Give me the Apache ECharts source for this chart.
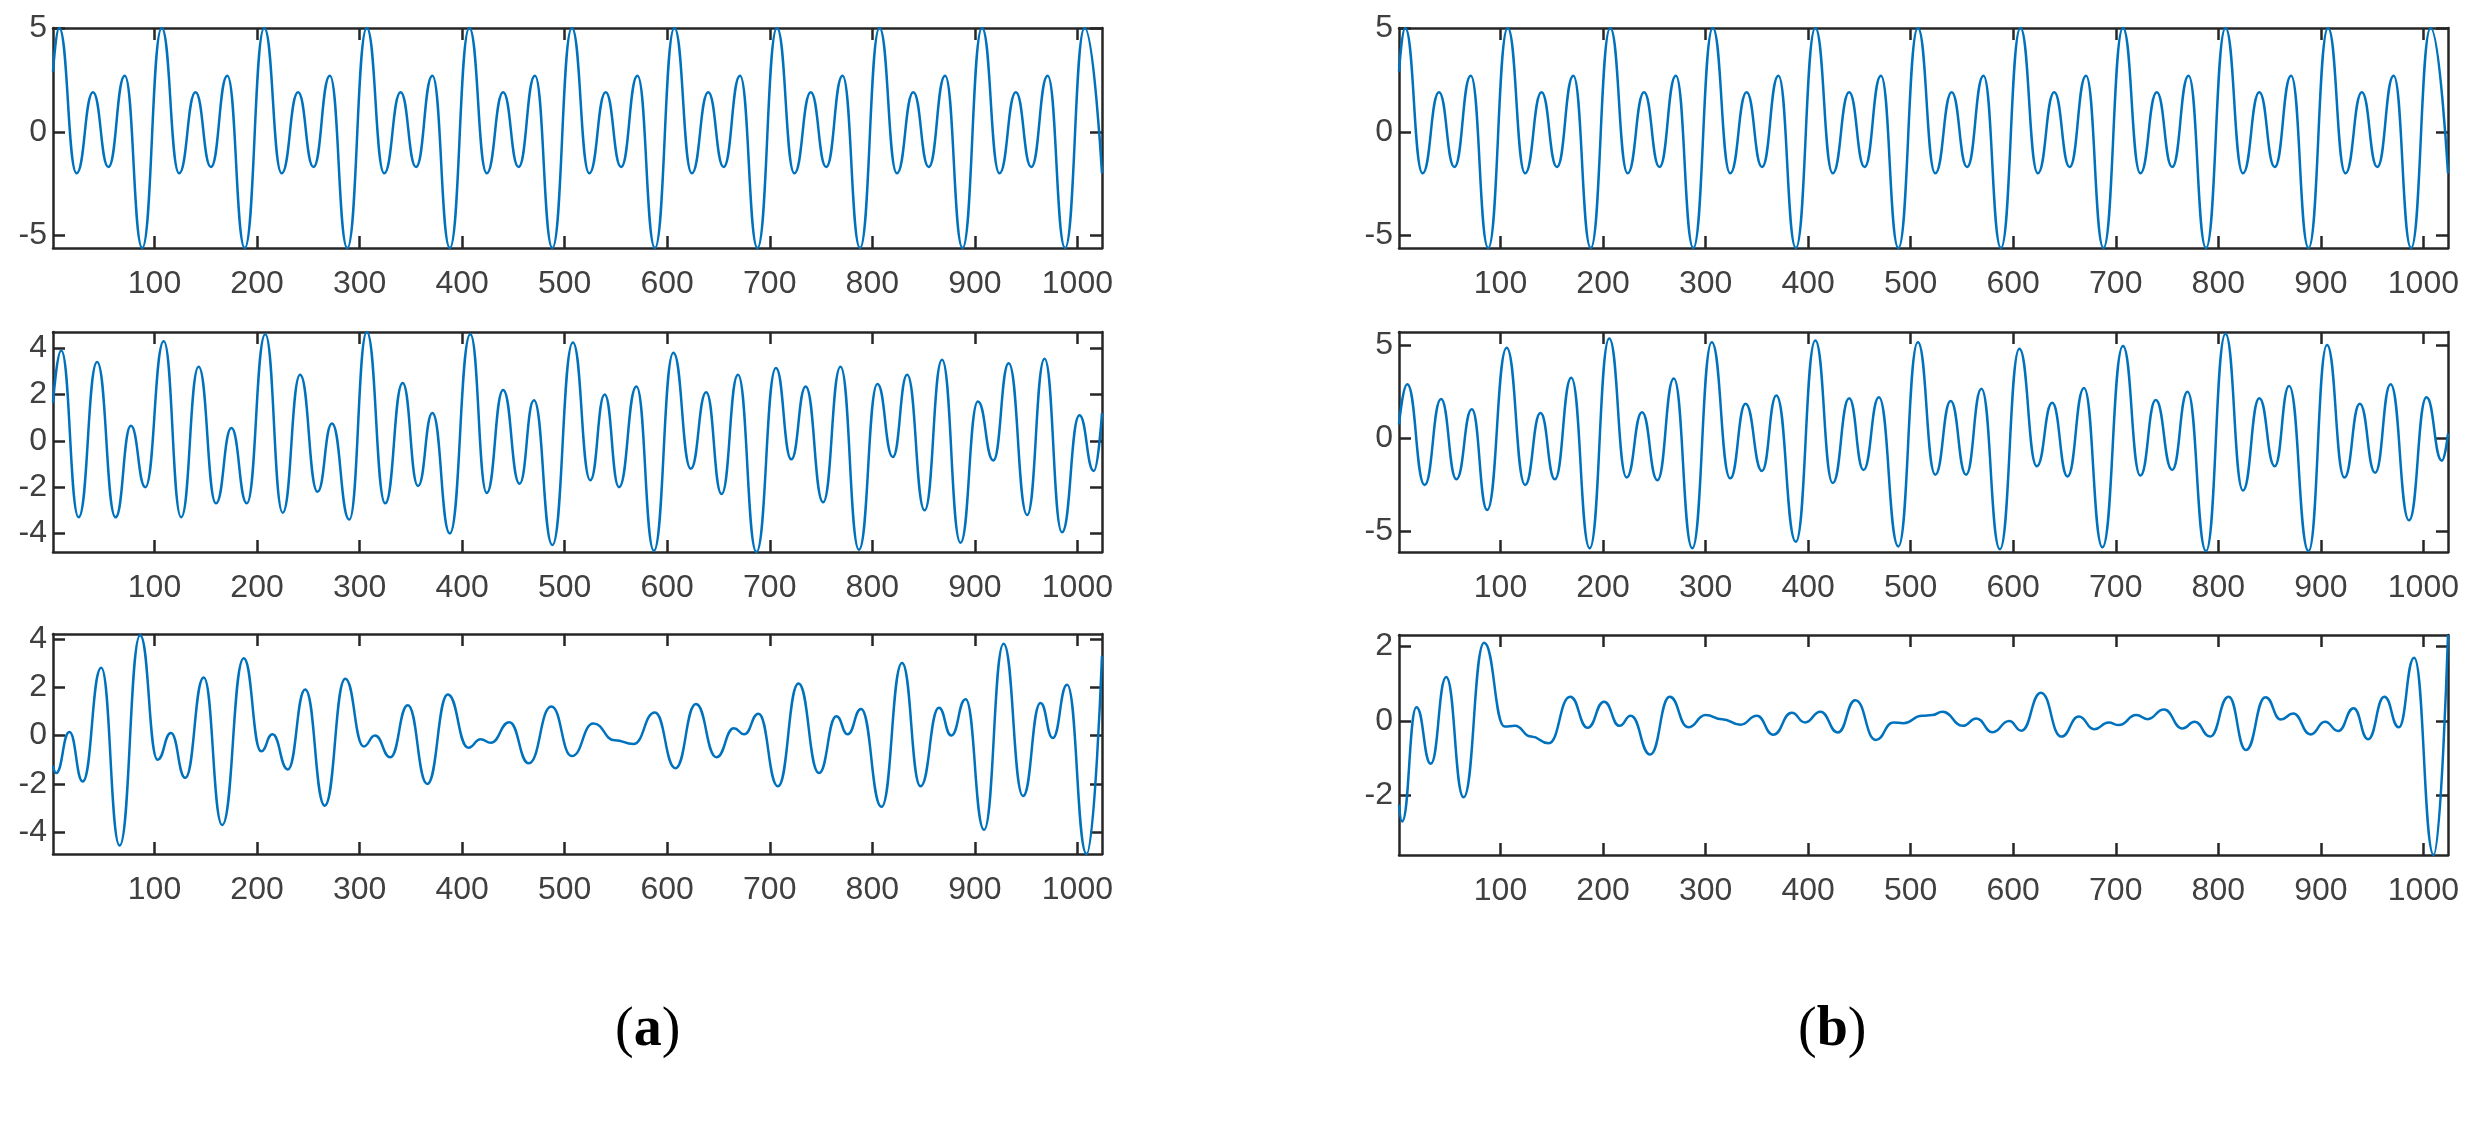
<!DOCTYPE html>
<html>
<head>
<meta charset="utf-8">
<script src="https://cdn.jsdelivr.net/npm/echarts@6/dist/echarts.min.js"></script>
<style>html,body{margin:0;padding:0;background:#fff}#chart{width:2465px;height:1130px}</style>
</head>
<body>
<div id="chart"></div>
<script>
// extrema: [sample index, value]
var sigA1 = [[1,2.9],
  [7,5],[24,-2],[40,1.9],[55,-1.7],[71,2.7],[88,-5.6],
  [107,5],[124,-2],[140,1.9],[155,-1.7],[171,2.7],[188,-5.6],
  [207,5],[224,-2],[240,1.9],[255,-1.7],[271,2.7],[288,-5.6],
  [307,5],[324,-2],[340,1.9],[355,-1.7],[371,2.7],[388,-5.6],
  [407,5],[424,-2],[440,1.9],[455,-1.7],[471,2.7],[488,-5.6],
  [507,5],[524,-2],[540,1.9],[555,-1.7],[571,2.7],[588,-5.6],
  [607,5],[624,-2],[640,1.9],[655,-1.7],[671,2.7],[688,-5.6],
  [707,5],[724,-2],[740,1.9],[755,-1.7],[771,2.7],[788,-5.6],
  [807,5],[824,-2],[840,1.9],[855,-1.7],[871,2.7],[888,-5.6],
  [907,5],[924,-2],[940,1.9],[955,-1.7],[971,2.7],[988,-5.6],
  [1007,5],[1024,-2]];
var sigB1 = sigA1.slice();

var sigA2 = [[1,1.65],[9,3.9],[26,-3.3],[44,3.4],[62,-3.3],[77,0.65],[91,-2.0],[109,4.3],[126,-3.3],
  [143,3.2],[160,-2.7],[175,0.55],[190,-2.7],[208,4.6],[225,-3.1],[242,2.85],[259,-2.2],[273,0.75],
  [290,-3.4],[307,4.7],[325,-2.7],[342,2.5],[357,-1.95],[371,1.2],[388,-4.0],[408,4.6],[424,-2.25],
  [440,2.2],[456,-1.85],[470,1.75],[488,-4.5],[508,4.25],[525,-1.7],[539,2.0],[553,-2.0],[570,2.35],
  [587,-4.75],[606,3.8],[623,-1.2],[638,2.1],[653,-2.3],[669,2.85],[687,-4.8],[706,3.15],[721,-0.8],
  [735,2.35],[752,-2.65],[769,3.2],[787,-4.7],[805,2.45],[820,-0.7],[834,2.85],[851,-3.0],[868,3.5],
  [886,-4.4],[903,1.7],[918,-0.85],[933,3.35],[951,-3.2],[968,3.55],[985,-3.95],[1002,1.1],[1016,-1.3],[1024,1.2]];

var sigA3 = [[1,-1.25],[4,-1.55],[17,0.15],[30,-1.9],[48,2.8],[66,-4.55],[86,4.15],[103,-1.0],[116,0.1],
  [130,-1.75],[148,2.4],[166,-3.7],[187,3.2],[204,-0.65],[215,0.05],[230,-1.4],[247,1.9],[266,-2.9],
  [286,2.35],[304,-0.45],[315,0.0],[330,-0.9],[347,1.25],[366,-2.0],[386,1.7],[406,-0.5],[418,-0.15],
  [428,-0.3],[446,0.55],[465,-1.15],[487,1.2],[507,-0.85],[528,0.5],[549,-0.2],[567,-0.35],[588,0.95],
  [608,-1.35],[628,1.3],[648,-0.9],[665,0.3],[675,0.05],[689,0.9],[708,-2.1],[728,2.15],[748,-1.55],
  [765,0.8],[776,0.05],[789,1.1],[809,-2.95],[829,3.0],[847,-2.1],[865,1.15],[877,0.0],[891,1.5],
  [909,-3.9],[928,3.8],[947,-2.5],[964,1.35],[976,-0.1],[990,2.1],[1009,-4.9],[1024,3.3]];

var sigB2 = [[1,0.75],[9,2.9],[26,-2.5],[42,2.1],[57,-2.2],[72,1.55],[87,-3.85],[106,4.85],[124,-2.5],
  [139,1.35],[153,-2.2],[169,3.25],[187,-5.9],[206,5.35],[223,-2.1],[238,1.4],[253,-2.25],[269,3.2],
  [287,-5.9],[306,5.15],[324,-2.15],[339,1.85],[355,-1.75],[369,2.3],[388,-5.55],[407,5.25],[424,-2.4],
  [440,2.15],[454,-1.7],[469,2.2],[488,-5.8],[507,5.15],[524,-1.95],[539,2.0],[554,-1.95],[569,2.65],
  [587,-5.95],[606,4.8],[623,-1.5],[638,1.9],[653,-2.05],[669,2.7],[687,-5.85],[707,4.95],[724,-2.0],
  [739,2.05],[755,-1.7],[770,2.5],[788,-6.05],[807,5.6],[824,-2.8],[840,2.15],[855,-1.5],[869,2.8],
  [888,-6.05],[906,5.0],[923,-2.1],[938,1.85],[953,-1.85],[968,2.9],[986,-4.4],[1003,2.2],[1018,-1.2],[1024,0.25]];

var sigB3 = [[1,-2.25],[4,-2.7],[18,0.37],[32,-1.15],[47,1.18],[64,-2.05],[84,2.1],[104,-0.15],[114,-0.13],
  [130,-0.42],[147,-0.6],[168,0.65],[185,-0.18],[201,0.52],[216,-0.13],[227,0.14],[246,-0.9],[265,0.65],
  [283,-0.17],[300,0.16],[316,0.05],[334,-0.1],[350,0.14],[366,-0.37],[384,0.22],[397,-0.04],[412,0.25],
  [429,-0.31],[446,0.56],[466,-0.51],[483,-0.04],[493,-0.06],[511,0.14],[521,0.16],[531,0.25],[551,-0.13],
  [564,0.07],[580,-0.3],[596,0.0],[608,-0.26],[627,0.76],[647,-0.42],[664,0.12],[679,-0.22],[693,-0.04],
  [703,-0.11],[720,0.16],[731,0.05],[747,0.31],[765,-0.2],[777,-0.02],[792,-0.42],[810,0.65],[827,-0.78],
  [846,0.64],[861,0.04],[873,0.2],[890,-0.36],[904,-0.02],[917,-0.27],[932,0.34],[946,-0.49],[962,0.65],
  [976,-0.17],[991,1.7],[1010,-3.6],[1024,2.31]];

var xTicks = [100, 200, 300, 400, 500, 600, 700, 800, 900, 1000];

var panels = [
  {data: sigA1, left: 53,   top: 28,  min: -5.6, max: 5,   ticks: [-5, 0, 5]},
  {data: sigA2, left: 53,   top: 332, min: -4.8, max: 4.7, ticks: [-4, -2, 0, 2, 4]},
  {data: sigA3, left: 53,   top: 634, min: -4.9, max: 4.2, ticks: [-4, -2, 0, 2, 4]},
  {data: sigB1, left: 1399, top: 28,  min: -5.6, max: 5,   ticks: [-5, 0, 5]},
  {data: sigB2, left: 1399, top: 332, min: -6.1, max: 5.7, ticks: [-5, 0, 5]},
  {data: sigB3, left: 1399, top: 635, min: -3.6, max: 2.31, ticks: [-2, 0, 2]}
];

var axisColor = '#262626';
var grid = [], xAxis = [], yAxis = [], series = [];

function plain(v) { return String(v); }

panels.forEach(function(p, i) {
  grid.push({left: p.left, top: p.top, width: 1049, height: 220});
  var lineStyle = {color: axisColor, width: 2.5};
  [false, true].forEach(function(isTop) {
    xAxis.push({
      type: 'value', gridIndex: i, min: 1, max: 1024,
      position: isTop ? 'top' : 'bottom',
      axisLine: {show: true, onZero: false, lineStyle: lineStyle},
      axisTick: {show: true, inside: true, length: 12, customValues: xTicks, lineStyle: lineStyle},
      axisLabel: {show: !isTop, customValues: xTicks, formatter: plain, color: '#404040', fontSize: 32,
        fontFamily: 'Liberation Sans', margin: 20},
      splitLine: {show: false}
    });
  });
  [false, true].forEach(function(isRight) {
    yAxis.push({
      type: 'value', gridIndex: i, min: p.min, max: p.max,
      position: isRight ? 'right' : 'left',
      axisLine: {show: true, onZero: false, lineStyle: lineStyle},
      axisTick: {show: true, inside: true, length: 12, customValues: p.ticks, lineStyle: lineStyle},
      axisLabel: {show: !isRight, customValues: p.ticks, formatter: plain, color: '#404040', fontSize: 32,
        fontFamily: 'Liberation Sans', margin: 6},
      splitLine: {show: false}
    });
  });
  series.push({
    type: 'line', xAxisIndex: i * 2, yAxisIndex: i * 2, data: p.data,
    smooth: 0.5, smoothMonotone: 'x', showSymbol: false, clip: true,
    lineStyle: {color: '#0072BD', width: 2.5}
  });
});

var rich = {
  p: {fontFamily: 'Liberation Serif', fontSize: 56, fill: '#000'},
  b: {fontFamily: 'Liberation Serif', fontSize: 56, fontWeight: 'bold', fill: '#000'}
};

var chart = echarts.init(document.getElementById('chart'));
chart.setOption({
  animation: false,
  backgroundColor: '#fff',
  grid: grid,
  xAxis: xAxis,
  yAxis: yAxis,
  series: series,
  graphic: [
    {type: 'text', left: 615, top: 1003, style: {text: '{p|(}{b|a}{p|)}', rich: rich}},
    {type: 'text', left: 1798, top: 1003, style: {text: '{p|(}{b|b}{p|)}', rich: rich}}
  ]
});
</script>
</body>
</html>
